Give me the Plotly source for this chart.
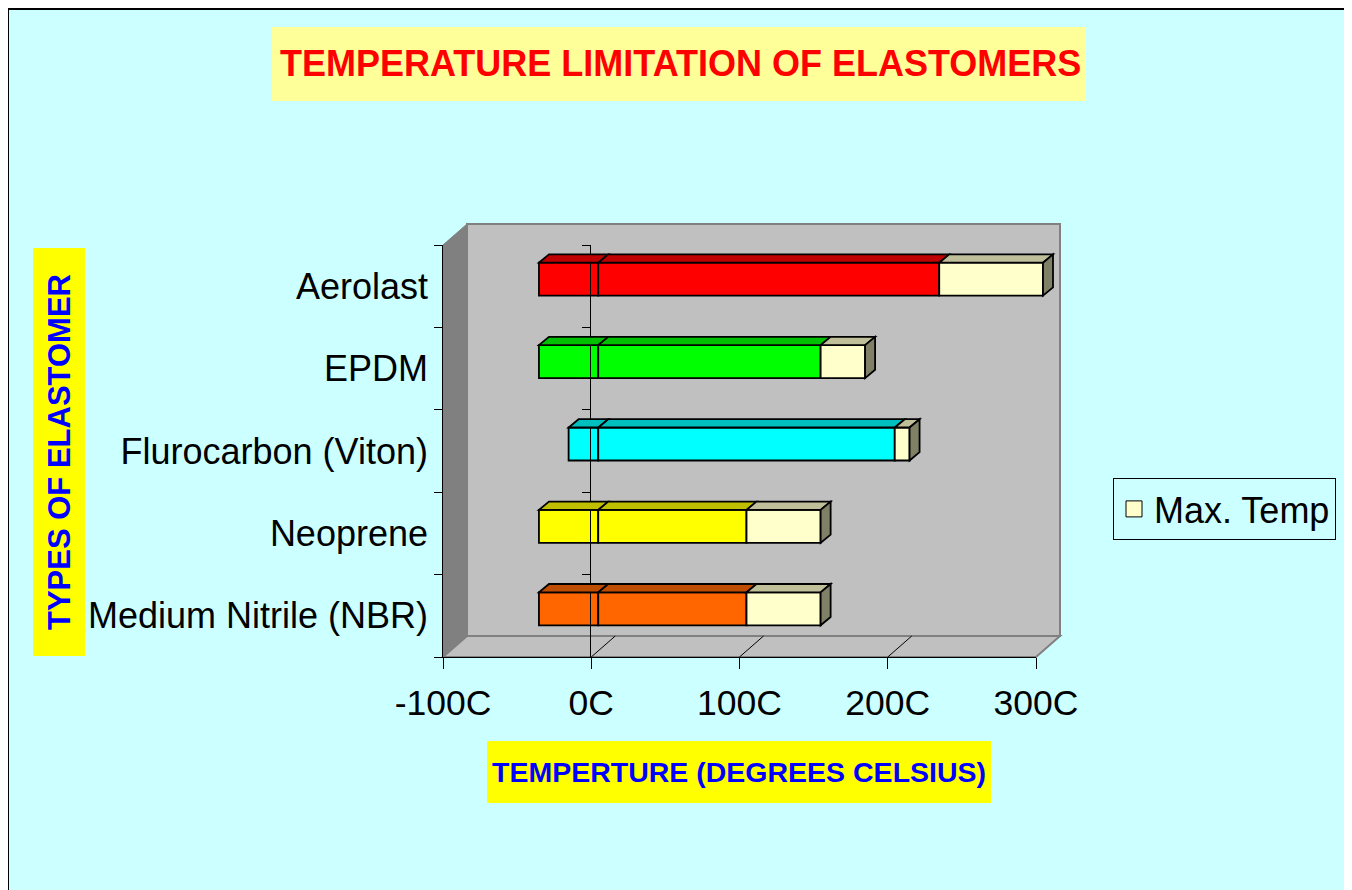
import plotly.graph_objects as go

# ---------------- data ----------------
categories = ["Aerolast", "EPDM", "Flurocarbon (Viton)", "Neoprene", "Medium Nitrile (NBR)"]
min_temp = [-40, -40, -20, -40, -40]
rated_temp = [230, 150, 200, 100, 100]
max_temp = [300, 180, 210, 150, 150]
x_ticks = [-100, 0, 100, 200, 300]
x_tick_labels = ["-100C", "0C", "100C", "200C", "300C"]
bar_colors = ["#FF0000", "#00FF00", "#00FFFF", "#FFFF00", "#FF6600"]
max_color = "#FFFFCC"

# ---------------- geometry helpers ----------------
OFF = 8                      # page body margin
W, H = 1352 - OFF, 890 - OFF
FONT = "Liberation Sans, Arial, sans-serif"


def px(x):
    return (x - OFF) / W


def py(y):
    return 1 - (y - OFF) / H


def shade(hexcol, f):
    h = hexcol.lstrip("#")
    r, g, b = (int(h[i:i + 2], 16) for i in (0, 2, 4))
    return "#%02X%02X%02X" % (int(r * f + 0.5), int(g * f + 0.5), int(b * f + 0.5))


# front plane (pixel box), bar plane and back wall offsets
FX0, FX1, FY0, FY1 = 443, 1036, 245, 657
BAR_DX, BAR_DY = 7, -7
BACK_DX, BACK_DY = 24, -21
XMIN, XMAX = -100, 300
XPAD = 20
SC = (FX1 - FX0) / (XMAX - XMIN)
n = len(categories)
idx = list(range(n))
bounds = [i - 0.5 for i in range(n + 1)]
yr = [n - 0.5, -0.5]


def fx(v, dx=0):
    return FX0 + dx + (v - XMIN) * SC


fig = go.Figure()

# bars (stacked relative: negative part, rated part, max part)
common = dict(orientation="h", width=0.4, xaxis="x2", yaxis="y2", showlegend=False,
              marker_line=dict(color="black", width=1.8))
fig.add_trace(go.Bar(y=idx, x=min_temp, marker_color=bar_colors, name="Min. Temp", **common))
fig.add_trace(go.Bar(y=idx, x=rated_temp, marker_color=bar_colors, name="Temp", **common))
fig.add_trace(go.Bar(y=idx, x=[m - r for m, r in zip(max_temp, rated_temp)],
                     marker_color=max_color, name="Max. Temp", **common))

# legend entry + dummy traces for axes
fig.add_trace(go.Scatter(x=[None], y=[None], mode="markers", name="Max. Temp",
                         marker=dict(symbol="square", size=22, color=max_color,
                                     line=dict(color="black", width=1)),
                         xaxis="x3", yaxis="y3", hoverinfo="skip"))
for ya in ("y4", "y5"):
    fig.add_trace(go.Scatter(x=[None], y=[None], xaxis="x3", yaxis=ya, showlegend=False,
                             hoverinfo="skip"))

shapes = []
# chart area border
shapes.append(dict(type="rect", xref="paper", yref="paper", x0=px(8), x1=px(1347),
                   y0=-0.05, y1=py(9), fillcolor="#CCFFFF",
                   line=dict(color="black", width=2), layer="below"))
# title / axis-title boxes
shapes.append(dict(type="rect", xref="paper", yref="paper", x0=px(272), x1=px(1086),
                   y0=py(101), y1=py(27), fillcolor="#FFFF99", line=dict(width=0), layer="below"))
shapes.append(dict(type="rect", xref="paper", yref="paper", x0=px(33), x1=px(85),
                   y0=py(656), y1=py(248), fillcolor="#FFFF00", line=dict(width=0), layer="below"))
shapes.append(dict(type="rect", xref="paper", yref="paper", x0=px(487), x1=px(991),
                   y0=py(803), y1=py(741), fillcolor="#FFFF00", line=dict(width=0), layer="below"))


def ppath(pts):
    return "M " + " L ".join("%.5f,%.5f" % (px(a), py(b)) for a, b in pts) + " Z"


# back wall, left wall, floor
shapes.append(dict(type="path", xref="paper", yref="paper", layer="below",
                   path=ppath([(FX0 + BACK_DX, FY0 + BACK_DY), (FX1 + BACK_DX, FY0 + BACK_DY),
                               (FX1 + BACK_DX, FY1 + BACK_DY), (FX0 + BACK_DX, FY1 + BACK_DY)]),
                   fillcolor="#C0C0C0", line=dict(color="#808080", width=2)))
shapes.append(dict(type="path", xref="paper", yref="paper", layer="below",
                   path=ppath([(FX0, FY0), (FX0 + BACK_DX, FY0 + BACK_DY),
                               (FX0 + BACK_DX, FY1 + BACK_DY), (FX0, FY1)]),
                   fillcolor="#808080", line=dict(color="#808080", width=1)))
shapes.append(dict(type="path", xref="paper", yref="paper", layer="below",
                   path=ppath([(FX0, FY1), (FX0 + BACK_DX, FY1 + BACK_DY),
                               (FX1 + BACK_DX, FY1 + BACK_DY), (FX1, FY1)]),
                   fillcolor="#C0C0C0", line=dict(color="#808080", width=2)))
for v in x_ticks[1:-1]:
    shapes.append(dict(type="line", xref="paper", yref="paper", layer="below",
                       x0=px(fx(v)), y0=py(FY1), x1=px(fx(v, BACK_DX)), y1=py(FY1 + BACK_DY),
                       line=dict(color="black", width=1)))

# 3D faces of bars (top faces and right side face), in bar-axis data units
DX = 10 / SC
DY = 8.3 / ((FY1 - FY0) / n)
HW = 0.2
for i in idx:
    segs = [(min_temp[i], 0, bar_colors[i]), (0, rated_temp[i], bar_colors[i]),
            (rated_temp[i], max_temp[i], max_color)]
    t = i - HW
    for a, b, col in segs:
        shapes.append(dict(type="path", xref="x2", yref="y2",
                           path="M %g,%g L %g,%g L %g,%g L %g,%g Z" % (
                               a, t, b, t, b + DX, t - DY, a + DX, t - DY),
                           fillcolor=shade(col, 0.75), line=dict(color="black", width=1.8)))
    m = max_temp[i]
    shapes.append(dict(type="path", xref="x2", yref="y2",
                       path="M %g,%g L %g,%g L %g,%g L %g,%g Z" % (
                           m, t, m + DX, t - DY, m + DX, i + HW - DY, m, i + HW),
                       fillcolor=shade(max_color, 0.5), line=dict(color="black", width=1.8)))

annotations = [
    dict(text="TEMPERATURE LIMITATION OF ELASTOMERS", xref="paper", yref="paper",
         x=px(680), y=py(63), xanchor="center", yanchor="middle", showarrow=False,
         font=dict(family=FONT, size=36, color="#FF0000", weight="bold")),
    dict(text="TYPES OF ELASTOMER", xref="paper", yref="paper", textangle=-90,
         x=px(59), y=py(452), xanchor="center", yanchor="middle", showarrow=False,
         font=dict(family=FONT, size=31, color="#0000FF", weight="bold")),
    dict(text="TEMPERTURE (DEGREES CELSIUS)", xref="paper", yref="paper",
         x=px(739), y=py(772), xanchor="center", yanchor="middle", showarrow=False,
         font=dict(family=FONT, size=28.5, color="#0000FF", weight="bold")),
]

blank = dict(showgrid=False, zeroline=False, showticklabels=False, ticks="", showline=False)
yticks_axis = dict(range=yr, tickmode="array", tickvals=bounds, ticks="outside", ticklen=8,
                   tickcolor="black", tickwidth=1, showticklabels=False, showline=True,
                   linecolor="black", linewidth=1, showgrid=False, zeroline=False)

fig.update_layout(
    width=W, height=H, margin=dict(l=0, r=0, t=0, b=0, autoexpand=False),
    paper_bgcolor="white", plot_bgcolor="rgba(0,0,0,0)",
    barmode="relative", font=dict(family=FONT, color="black"),
    shapes=shapes, annotations=annotations,
    showlegend=True,
    legend=dict(x=px(1113), y=py(478), xanchor="left", yanchor="top",
                bgcolor="rgba(0,0,0,0)", bordercolor="black", borderwidth=1,
                font=dict(family=FONT, size=36, color="black")),
    # back wall grid
    xaxis=dict(domain=[px(FX0 + BACK_DX), px(FX1 + BACK_DX)], range=[XMIN, XMAX], anchor="y",
               tickmode="array", tickvals=x_ticks[1:-1], showgrid=True, gridcolor="#3A3A3A",
               gridwidth=1.5, zeroline=False, showticklabels=False, ticks="", showline=False),
    yaxis=dict(domain=[py(FY1 + BACK_DY), py(FY0 + BACK_DY)], range=[0, 1], anchor="x", **blank),
    # bar plane (range padded so the 3D side faces are not clipped)
    xaxis2=dict(domain=[px(FX0 + BAR_DX), px(fx(XMAX + XPAD, BAR_DX))],
                range=[XMIN, XMAX + XPAD], anchor="y2", **blank),
    yaxis2=dict(domain=[py(FY1 + BAR_DY), py(FY0 + BAR_DY)], range=yr, anchor="x2", **blank),
    # front axes
    xaxis3=dict(domain=[px(FX0), px(FX1)], range=[XMIN, XMAX], anchor="y3",
                tickmode="array", tickvals=x_ticks, ticktext=x_tick_labels,
                ticks="outside", ticklen=11, tickcolor="black", showline=True,
                linecolor="black", linewidth=1, showgrid=False, zeroline=False,
                ticklabelstandoff=3,
                tickfont=dict(family=FONT, size=35.5, color="black")),
    yaxis3=dict(domain=[py(FY1), py(FY0)], range=yr, anchor="x3", tickmode="array",
                tickvals=idx, ticktext=categories, ticks="", showline=False, showgrid=False,
                zeroline=False, ticklabelstandoff=14,
                tickfont=dict(family=FONT, size=36, color="black")),
    yaxis4=dict(overlaying="y3", anchor="x3", side="left", **yticks_axis),
    yaxis5=dict(overlaying="y3", anchor="free", position=px(590), side="left", **yticks_axis),
)

fig.write_html("out.html")
